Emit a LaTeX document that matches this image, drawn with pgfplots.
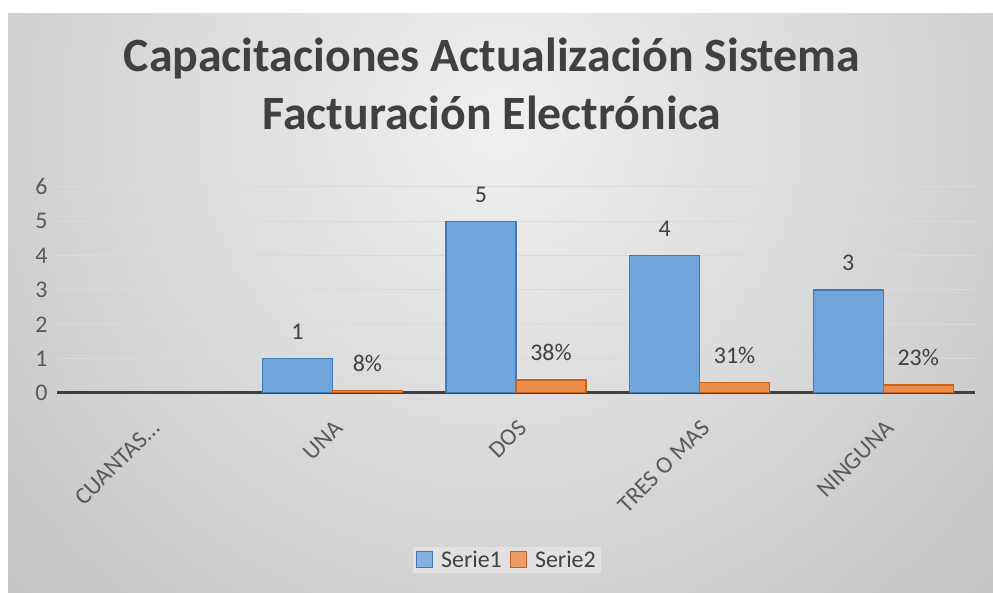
\documentclass[border=0pt]{standalone}
\usepackage{pgfplots}
\pgfplotsset{compat=1.18}
\usepackage{fontspec}
\setmainfont{Carlito}
\definecolor{titlec}{HTML}{404040}
\definecolor{tickc}{HTML}{595959}
\definecolor{blueF}{HTML}{6FA5DB}
\definecolor{blueD}{HTML}{3F78BC}
\definecolor{orF}{HTML}{ED8B48}
\definecolor{orD}{HTML}{C8611E}
\definecolor{gridc}{HTML}{DADADA}
\begin{document}
\begin{tikzpicture}[x=1bp,y=1bp]
\fill[white] (0,0) rectangle (993,593);
\begin{scope}
\clip (8,0) rectangle (993,579);
\shade[inner color=white!94!black, outer color=white!76!black] (500,470) circle (720);
\end{scope}
\node[anchor=base, font=\fontsize{48}{56}\selectfont\bfseries, text=titlec] at (492,521) {Capacitaciones Actualización Sistema};
\node[anchor=base, font=\fontsize{48}{56}\selectfont\bfseries, text=titlec] at (492,463) {Facturación Electrónica};
\begin{axis}[
  at={(57bp,200bp)}, anchor=south west,
  scale only axis, width=918bp, height=206bp,
  xmin=-0.5, xmax=4.5, ymin=0, ymax=6,
  ybar=0pt, bar width=70bp,
  xtick={0,1,2,3,4},
  xticklabels={CUANTAS…,UNA,DOS,TRES O MAS,NINGUNA},
  ytick={0,1,2,3,4,5,6},
  major tick length=0pt,
  axis x line*=bottom, axis y line*=left,
  x axis line style={-, line width=3bp, color=titlec},
  y axis line style={draw=none},
  ymajorgrids, grid style={gridc, line width=1bp},
  /pgf/number format/assume math mode=true,
  tick label style={font=\fontsize{24}{28}\selectfont, text=tickc},
  xticklabel style={xshift=9bp, yshift=-29bp, rotate=45, anchor=east},
  yticklabel style={xshift=-6bp},
  nodes near coords,
  point meta=explicit symbolic,
  every node near coord/.append style={font=\fontsize{24}{28}\selectfont, text=titlec, anchor=south, yshift=15bp},
  legend columns=2,
  legend style={at={(0.49,-0.81)}, anchor=center, fill=white!90!black, fill opacity=0.8, text opacity=1, draw=none, font=\fontsize{24}{28}\selectfont, text=titlec, /tikz/every odd column/.append style={column sep=6bp}, /tikz/every even column/.append style={column sep=6bp}},
  legend image code/.code={\draw[#1] (0bp,-8bp) rectangle (16bp,8bp);},
]
\addplot[fill=blueF, draw=blueD, line width=1.2bp] coordinates {(1,1) [1] (2,5) [5] (3,4) [4] (4,3) [3]};
\addlegendentry{Serie1}
\addplot[fill=orF, draw=orD, line width=1.2bp] coordinates {(1,0.08) [8\%] (2,0.38) [38\%] (3,0.31) [31\%] (4,0.23) [23\%]};
\addlegendentry{Serie2}
\end{axis}
\end{tikzpicture}
\end{document}
